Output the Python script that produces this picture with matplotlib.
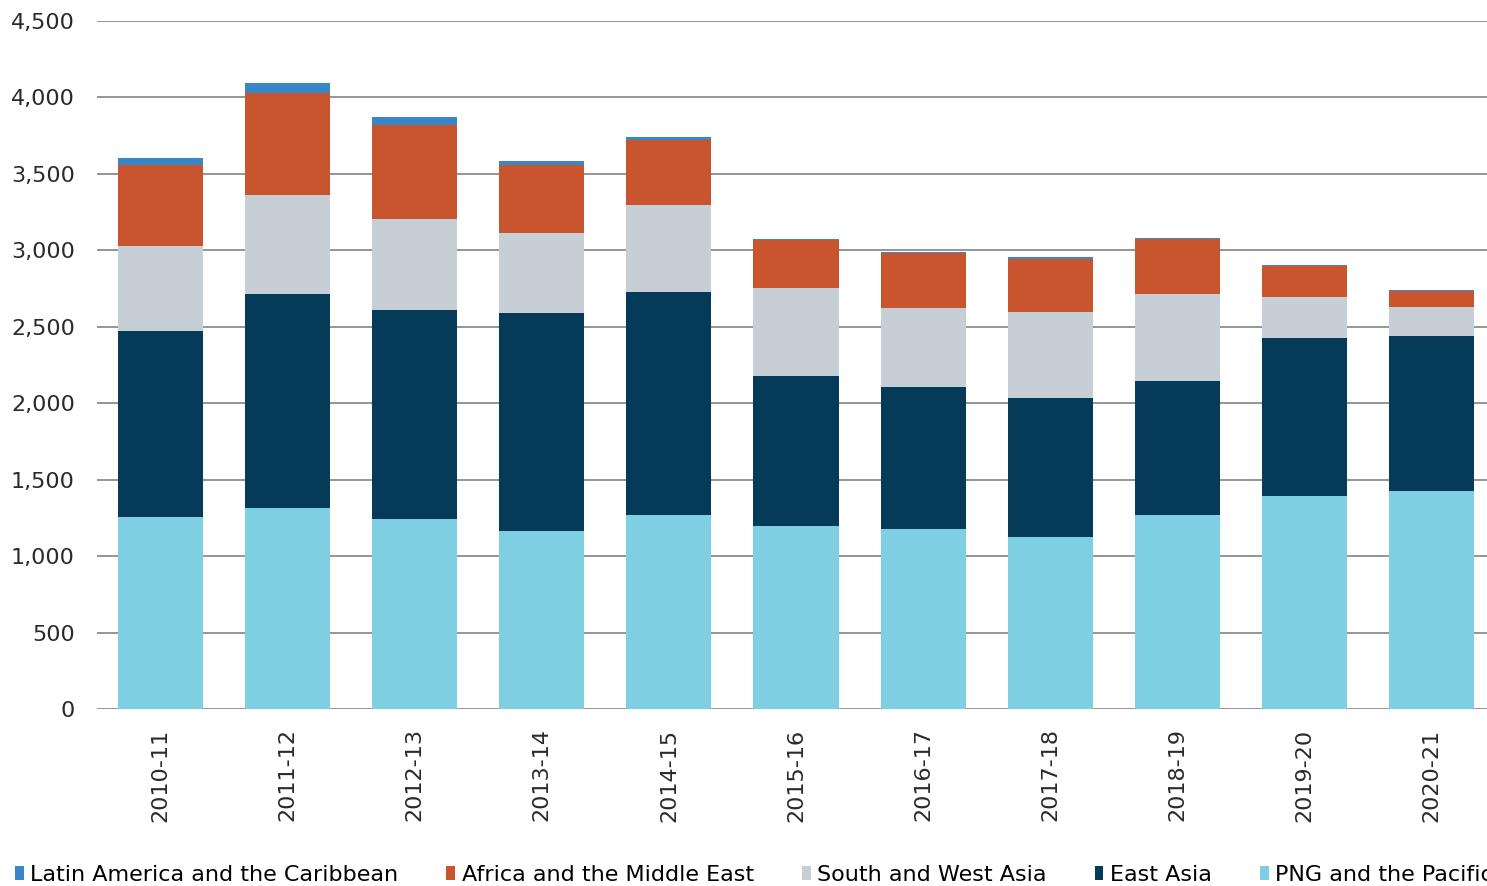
import matplotlib.pyplot as plt
import numpy as np

plt.rcParams["font.family"] = ["DejaVu Sans"]

years = ["2010-11", "2011-12", "2012-13", "2013-14", "2014-15", "2015-16",
         "2016-17", "2017-18", "2018-19", "2019-20", "2020-21"]

png_pacific = [1254, 1312, 1243, 1164, 1267, 1197, 1175, 1127, 1267, 1393, 1428]
east_asia = [1218, 1402, 1367, 1424, 1458, 983, 933, 905, 878, 1031, 1011]
south_west_asia = [556, 650, 593, 523, 571, 571, 513, 566, 567, 269, 192]
africa_me = [530, 663, 616, 447, 425, 316, 359, 347, 360, 204, 100]
latin_america = [48, 65, 51, 24, 22, 8, 9, 9, 8, 10, 8]

series = [
    ("PNG and the Pacific", png_pacific, "#7dcfe1"),
    ("East Asia", east_asia, "#063a59"),
    ("South and West Asia", south_west_asia, "#c6ced6"),
    ("Africa and the Middle East", africa_me, "#c9552f"),
    ("Latin America and the Caribbean", latin_america, "#3a87c8"),
]

fig = plt.figure(figsize=(14.87, 8.86), dpi=100)
ax = fig.add_axes([97 / 1487, 177 / 886, 1398 / 1487, 688 / 886])

x = np.arange(len(years))
bottom = np.zeros(len(years))
handles = {}
for name, vals, col in series:
    b = ax.bar(x, vals, 0.67, bottom=bottom, color=col, label=name, zorder=3)
    handles[name] = b
    bottom += np.array(vals)

ax.set_xlim(-0.5, 10.5)
ax.set_ylim(0, 4500)
ax.set_yticks(np.arange(0, 4501, 500))
ax.set_yticklabels([f"{v:,}" for v in range(0, 4501, 500)], fontsize=16, color="#2a2a2a")
ax.set_xticks(x)
ax.set_xticklabels(years, rotation=90, fontsize=16, color="#2a2a2a")
ax.tick_params(length=0)
ax.tick_params(axis="y", pad=16)
ax.tick_params(axis="x", pad=14)
ax.grid(axis="y", color="#8c8c8c", linewidth=1.3, zorder=0)
for s in ax.spines.values():
    s.set_visible(False)

order = ["Latin America and the Caribbean", "Africa and the Middle East",
         "South and West Asia", "East Asia", "PNG and the Pacific"]
fig.legend([handles[n] for n in order], order, loc="lower left",
           bbox_to_anchor=(0.004, -0.009), ncol=5, frameon=False, fontsize=16,
           handlelength=0.4, handleheight=0.6, handletextpad=0.3,
           columnspacing=2.15, borderaxespad=0)

fig.savefig("out.png", dpi=100)
